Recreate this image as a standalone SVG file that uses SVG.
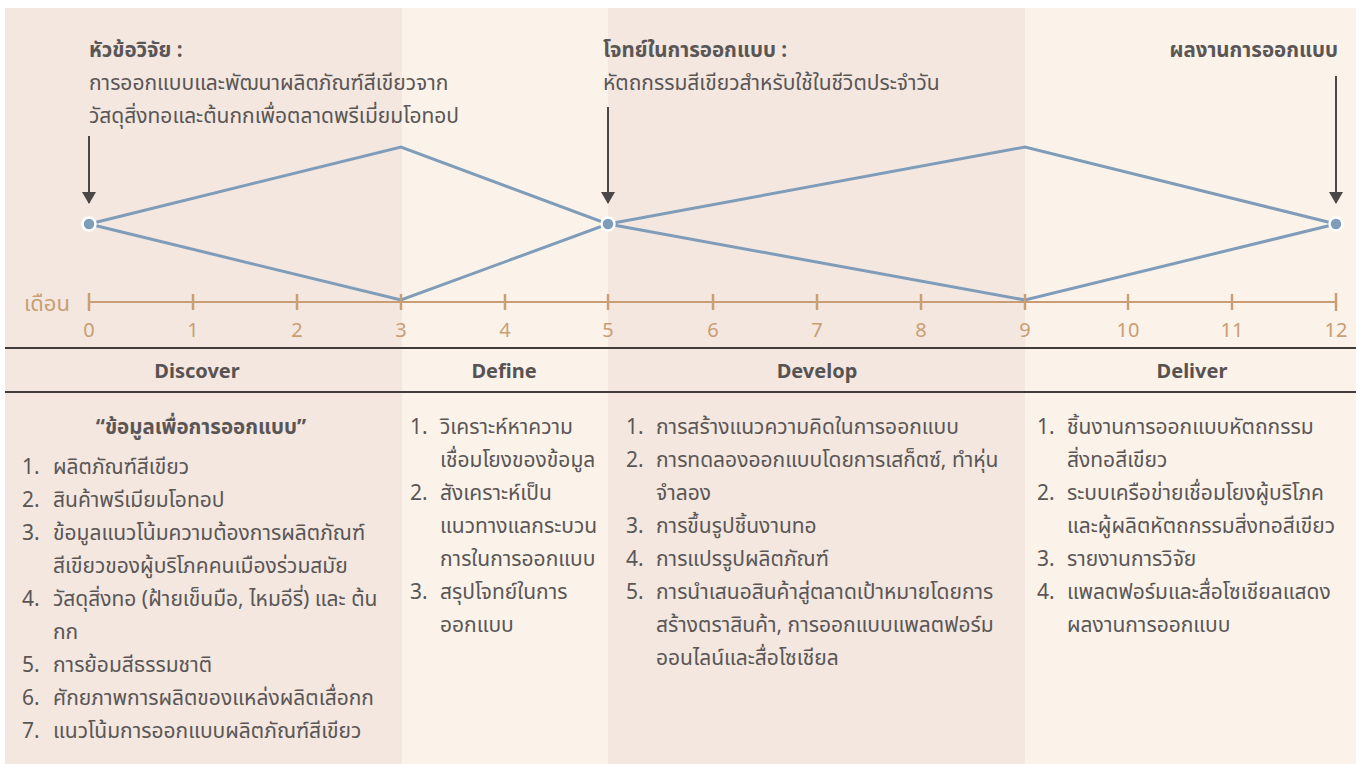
<svg xmlns="http://www.w3.org/2000/svg" width="1361" height="764" viewBox="0 0 1361 764">
<defs>
<style>
.t{font-family:"Noto Sans Thai","Noto Sans","Liberation Sans",sans-serif;fill:#5a5655;font-size:21px}
.b{font-weight:bold;font-size:20.5px}
.ph{font-family:"Noto Sans","Liberation Sans",sans-serif;font-weight:bold;fill:#575352;font-size:20px;text-anchor:middle}
.ax{font-family:"Noto Sans","Liberation Sans",sans-serif;fill:#c99e74;font-size:20px;text-anchor:middle}
.dk{fill:#f3e7e0}
.lt{fill:#fbf2ea}
.dia{fill:none;stroke:#7f9cb9;stroke-width:3;stroke-linejoin:miter}
.tick{stroke:#c99e74;stroke-width:2.5}
.arr{stroke:#4a4746;stroke-width:2}
</style>
<marker id="ah" viewBox="0 0 12 14" refX="11" refY="7" markerWidth="12" markerHeight="14" orient="auto" markerUnits="userSpaceOnUse">
<path d="M0,0 L12,7 L0,14 Z" fill="#4a4746"/>
</marker>
</defs>
<rect width="1361" height="764" fill="#ffffff"/>
<g id="panels">
<rect class="dk" x="5" y="8" width="397" height="756"/>
<rect class="lt" x="402" y="8" width="206" height="756"/>
<rect class="dk" x="608" y="8" width="417" height="756"/>
<rect class="lt" x="1025" y="8" width="331" height="756"/>
</g>
<g id="header-topic">
<text class="t b" x="89" y="57">หัวข้อวิจัย :</text>
<text class="t" x="89" y="90">การออกแบบและพัฒนาผลิตภัณฑ์สีเขียวจาก</text>
<text class="t" x="89" y="123">วัสดุสิ่งทอและต้นกกเพื่อตลาดพรีเมี่ยมโอทอป</text>
</g>
<g id="header-brief">
<text class="t b" x="603" y="57">โจทย์ในการออกแบบ :</text>
<text class="t" x="603" y="90">หัตถกรรมสีเขียวสำหรับใช้ในชีวิตประจำวัน</text>
</g>
<g id="header-output">
<text class="t b" x="1338" y="57" text-anchor="end">ผลงานการออกแบบ</text>
</g>
<g id="connectors">
<line class="arr" x1="89" y1="136" x2="89" y2="203" marker-end="url(#ah)"/>
<line class="arr" x1="608" y1="107" x2="608" y2="203" marker-end="url(#ah)"/>
<line class="arr" x1="1336" y1="76" x2="1336" y2="203" marker-end="url(#ah)"/>
<polygon class="dia" points="89,224 401,147 608,224 401,300"/>
<polygon class="dia" points="608,224 1025,147 1336,224 1025,300"/>
</g>
<g id="nodes">
<circle cx="89" cy="224" r="6.5" fill="#7f9cb9" stroke="#ffffff" stroke-width="2.5"/>
<circle cx="608" cy="224" r="6.5" fill="#7f9cb9" stroke="#ffffff" stroke-width="2.5"/>
<circle cx="1336" cy="224" r="6.5" fill="#7f9cb9" stroke="#ffffff" stroke-width="2.5"/>
</g>
<g id="axis">
<text class="t" x="24" y="311" style="fill:#c99e74;font-size:22px">เดือน</text>
<line x1="89" y1="302" x2="1336" y2="302" stroke="#c99e74" stroke-width="2"/>
<line class="tick" x1="89" y1="293" x2="89" y2="311"/>
<line class="tick" x1="193" y1="294" x2="193" y2="310"/>
<line class="tick" x1="297" y1="294" x2="297" y2="310"/>
<line class="tick" x1="401" y1="294" x2="401" y2="310"/>
<line class="tick" x1="505" y1="294" x2="505" y2="310"/>
<line class="tick" x1="608" y1="294" x2="608" y2="310"/>
<line class="tick" x1="713" y1="294" x2="713" y2="310"/>
<line class="tick" x1="817" y1="294" x2="817" y2="310"/>
<line class="tick" x1="921" y1="294" x2="921" y2="310"/>
<line class="tick" x1="1025" y1="294" x2="1025" y2="310"/>
<line class="tick" x1="1128" y1="294" x2="1128" y2="310"/>
<line class="tick" x1="1232" y1="294" x2="1232" y2="310"/>
<line class="tick" x1="1336" y1="293" x2="1336" y2="311"/>
<text class="ax" x="89" y="337">0</text>
<text class="ax" x="193" y="337">1</text>
<text class="ax" x="297" y="337">2</text>
<text class="ax" x="401" y="337">3</text>
<text class="ax" x="505" y="337">4</text>
<text class="ax" x="608" y="337">5</text>
<text class="ax" x="713" y="337">6</text>
<text class="ax" x="817" y="337">7</text>
<text class="ax" x="921" y="337">8</text>
<text class="ax" x="1025" y="337">9</text>
<text class="ax" x="1128" y="337">10</text>
<text class="ax" x="1232" y="337">11</text>
<text class="ax" x="1336" y="337">12</text>
</g>
<g id="phase-bar">
<line x1="5" y1="348" x2="1356" y2="348" stroke="#3f3c3b" stroke-width="2"/>
<line x1="5" y1="392" x2="1356" y2="392" stroke="#3f3c3b" stroke-width="2"/>
<text class="ph" x="197" y="378">Discover</text>
<text class="ph" x="504" y="378">Define</text>
<text class="ph" x="817" y="378">Develop</text>
<text class="ph" x="1192" y="378">Deliver</text>
</g>
<g id="discover-list">
<text class="t b" x="201" y="434" text-anchor="middle">“ข้อมูลเพื่อการออกแบบ”</text>
<text class="t" x="22" y="474">1.</text><text class="t" x="53" y="474">ผลิตภัณฑ์สีเขียว</text>
<text class="t" x="22" y="507">2.</text><text class="t" x="53" y="507">สินค้าพรีเมียมโอทอป</text>
<text class="t" x="22" y="540">3.</text><text class="t" x="53" y="540">ข้อมูลแนวโน้มความต้องการผลิตภัณฑ์</text>
<text class="t" x="53" y="573">สีเขียวของผู้บริโภคคนเมืองร่วมสมัย</text>
<text class="t" x="22" y="606">4.</text><text class="t" x="53" y="606">วัสดุสิ่งทอ (ฝ้ายเข็นมือ, ไหมอีรี่) และ ต้น</text>
<text class="t" x="53" y="639">กก</text>
<text class="t" x="22" y="672">5.</text><text class="t" x="53" y="672">การย้อมสีธรรมชาติ</text>
<text class="t" x="22" y="705">6.</text><text class="t" x="53" y="705">ศักยภาพการผลิตของแหล่งผลิตเสื่อกก</text>
<text class="t" x="22" y="738">7.</text><text class="t" x="53" y="738">แนวโน้มการออกแบบผลิตภัณฑ์สีเขียว</text>
</g>
<g id="define-list">
<text class="t" x="410" y="434">1.</text><text class="t" x="440" y="434">วิเคราะห์หาความ</text>
<text class="t" x="440" y="467">เชื่อมโยงของข้อมูล</text>
<text class="t" x="410" y="500">2.</text><text class="t" x="440" y="500">สังเคราะห์เป็น</text>
<text class="t" x="440" y="533">แนวทางแลกระบวน</text>
<text class="t" x="440" y="566">การในการออกแบบ</text>
<text class="t" x="410" y="599">3.</text><text class="t" x="440" y="599">สรุปโจทย์ในการ</text>
<text class="t" x="440" y="632">ออกแบบ</text>
</g>
<g id="develop-list">
<text class="t" x="626" y="434">1.</text><text class="t" x="656" y="434">การสร้างแนวความคิดในการออกแบบ</text>
<text class="t" x="626" y="467">2.</text><text class="t" x="656" y="467">การทดลองออกแบบโดยการเสก็ตซ์, ทำหุ่น</text>
<text class="t" x="656" y="500">จำลอง</text>
<text class="t" x="626" y="533">3.</text><text class="t" x="656" y="533">การขึ้นรูปชิ้นงานทอ</text>
<text class="t" x="626" y="566">4.</text><text class="t" x="656" y="566">การแปรรูปผลิตภัณฑ์</text>
<text class="t" x="626" y="599">5.</text><text class="t" x="656" y="599">การนำเสนอสินค้าสู่ตลาดเป้าหมายโดยการ</text>
<text class="t" x="656" y="632">สร้างตราสินค้า, การออกแบบแพลตฟอร์ม</text>
<text class="t" x="656" y="665">ออนไลน์และสื่อโซเชียล</text>
</g>
<g id="deliver-list">
<text class="t" x="1037" y="434">1.</text><text class="t" x="1067" y="434">ชิ้นงานการออกแบบหัตถกรรม</text>
<text class="t" x="1067" y="467">สิ่งทอสีเขียว</text>
<text class="t" x="1037" y="500">2.</text><text class="t" x="1067" y="500">ระบบเครือข่ายเชื่อมโยงผู้บริโภค</text>
<text class="t" x="1067" y="533">และผู้ผลิตหัตถกรรมสิ่งทอสีเขียว</text>
<text class="t" x="1037" y="566">3.</text><text class="t" x="1067" y="566">รายงานการวิจัย</text>
<text class="t" x="1037" y="599">4.</text><text class="t" x="1067" y="599">แพลตฟอร์มและสื่อโซเชียลแสดง</text>
<text class="t" x="1067" y="632">ผลงานการออกแบบ</text>
</g>
</svg>
